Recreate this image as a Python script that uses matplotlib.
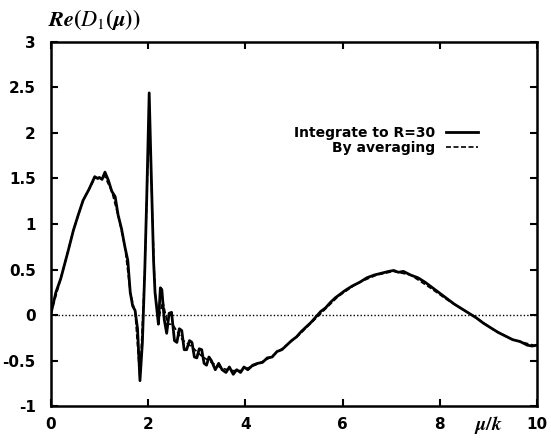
import numpy as np
import matplotlib.pyplot as plt

# data
x_int = [0, 0.1, 0.2, 0.35, 0.46, 0.56, 0.66, 0.78, 0.9, 0.96, 1.0, 1.05, 1.11, 1.18,
         1.25, 1.32, 1.38, 1.45, 1.52, 1.58, 1.63, 1.68, 1.73, 1.78, 1.83, 1.88, 1.93,
         1.97, 2.02, 2.05, 2.08, 2.11, 2.14, 2.18, 2.21, 2.25, 2.28, 2.33, 2.38, 2.43,
         2.48, 2.54, 2.59, 2.64, 2.69, 2.74, 2.79, 2.85, 2.9, 2.95, 3.0, 3.05, 3.1,
         3.15, 3.2, 3.25, 3.3, 3.38, 3.45, 3.52, 3.6, 3.67, 3.75, 3.82, 3.9, 3.97,
         4.05, 4.15, 4.25, 4.35, 4.45, 4.55, 4.65, 4.75, 4.85, 4.95, 5.05, 5.15, 5.25,
         5.35, 5.45, 5.55, 5.65, 5.75, 5.85, 5.95, 6.05, 6.2, 6.35, 6.5, 6.65, 6.8,
         6.95, 7.05, 7.15, 7.25, 7.4, 7.55, 7.7, 7.85, 8.0, 8.15, 8.3, 8.45, 8.6, 8.75,
         8.9, 9.05, 9.2, 9.35, 9.5, 9.65, 9.8, 9.9, 10.0]
y_int = [0.02, 0.25, 0.4, 0.7, 0.93, 1.1, 1.26, 1.38, 1.52, 1.5, 1.51, 1.49, 1.57, 1.48,
         1.36, 1.3, 1.1, 0.95, 0.75, 0.6, 0.25, 0.1, 0.05, -0.15, -0.72, -0.3, 0.5,
         1.3, 2.44, 1.8, 1.2, 0.6, 0.25, 0.05, -0.1, 0.3, 0.28, -0.05, -0.2, 0.02,
         0.03, -0.28, -0.3, -0.15, -0.17, -0.38, -0.38, -0.28, -0.3, -0.46, -0.47, -0.37, -0.38,
         -0.53, -0.55, -0.46, -0.5, -0.6, -0.53, -0.6, -0.63, -0.57, -0.65, -0.6, -0.63, -0.57,
         -0.6, -0.55, -0.53, -0.52, -0.47, -0.46, -0.4, -0.38, -0.33, -0.28, -0.24, -0.18, -0.13,
         -0.08, -0.02, 0.04, 0.08, 0.14, 0.19, 0.23, 0.27, 0.32, 0.36, 0.41, 0.44, 0.46,
         0.48, 0.49, 0.47, 0.48, 0.44, 0.41, 0.36, 0.3, 0.24, 0.18, 0.12, 0.07, 0.02, -0.03,
         -0.09, -0.14, -0.19, -0.23, -0.27, -0.29, -0.33, -0.34, -0.33]

x_avg = [0, 0.2, 0.46, 0.66, 0.9, 1.1, 1.25, 1.4, 1.52, 1.63, 1.73, 1.83, 1.93, 2.02,
         2.08, 2.14, 2.21, 2.3, 2.4, 2.5, 2.7, 2.9, 3.1, 3.3, 3.5, 3.7, 3.9, 4.2, 4.5,
         4.8, 5.1, 5.5, 5.9, 6.3, 6.7, 7.05, 7.4, 7.8, 8.2, 8.7, 9.1, 9.5, 10]
y_avg = [0.02, 0.4, 0.93, 1.26, 1.5, 1.53, 1.36, 1.05, 0.75, 0.25, 0.03, -0.7, 0.5, 2.2,
         1.2, 0.25, -0.05, 0.15, -0.1, -0.1, -0.27, -0.35, -0.45, -0.52, -0.58, -0.61, -0.61,
         -0.55, -0.47, -0.35, -0.22, -0.01, 0.2, 0.35, 0.44, 0.48, 0.44, 0.3, 0.15, -0.01,
         -0.16, -0.27, -0.34]

plt.rcParams['font.family'] = ['DejaVu Sans']
plt.rcParams['mathtext.fontset'] = 'stix'

fig = plt.figure(figsize=(5.51, 4.41), dpi=100)
ax = fig.add_axes([0.0926, 0.079, 0.882, 0.826])

ax.plot(x_int, y_int, color='black', lw=2.0, label='Integrate to R=30')
ax.plot(x_avg, y_avg, color='black', lw=1.2, ls=(0, (3, 1.5)), label='By averaging')
ax.axhline(0, color='black', lw=1.0, ls=(0, (1, 1.5)))

ax.set_xlim(0, 10)
ax.set_ylim(-1, 3)
ax.set_xticks([0, 2, 4, 6, 8, 10])
ax.set_yticks([-1, -0.5, 0, 0.5, 1, 1.5, 2, 2.5, 3])
ax.set_yticklabels(['-1', '-0.5', '0', '0.5', '1', '1.5', '2', '2.5', '3'])
ax.tick_params(direction='in', top=True, right=True, length=5, width=1.5,
               labelsize=11, pad=8)
ax.tick_params(axis='y', pad=11)
for lab in ax.get_xticklabels() + ax.get_yticklabels():
    lab.set_fontweight('bold')
for s in ax.spines.values():
    s.set_linewidth(1.8)

leg = ax.legend(loc='center right', bbox_to_anchor=(0.905, 0.73), frameon=False,
                markerfirst=False, handlelength=2.3, handletextpad=0.8,
                labelspacing=0.1, prop={'weight': 'bold', 'size': 10})

fig.text(0.087, 0.955, r'$\boldsymbol{Re(D_1(\mu))}$', ha='left', va='center', fontsize=16)
fig.text(0.886, 0.036, r'$\boldsymbol{\mu/k}$', ha='center', va='center', fontsize=14)

fig.savefig('out.png', dpi=100)
